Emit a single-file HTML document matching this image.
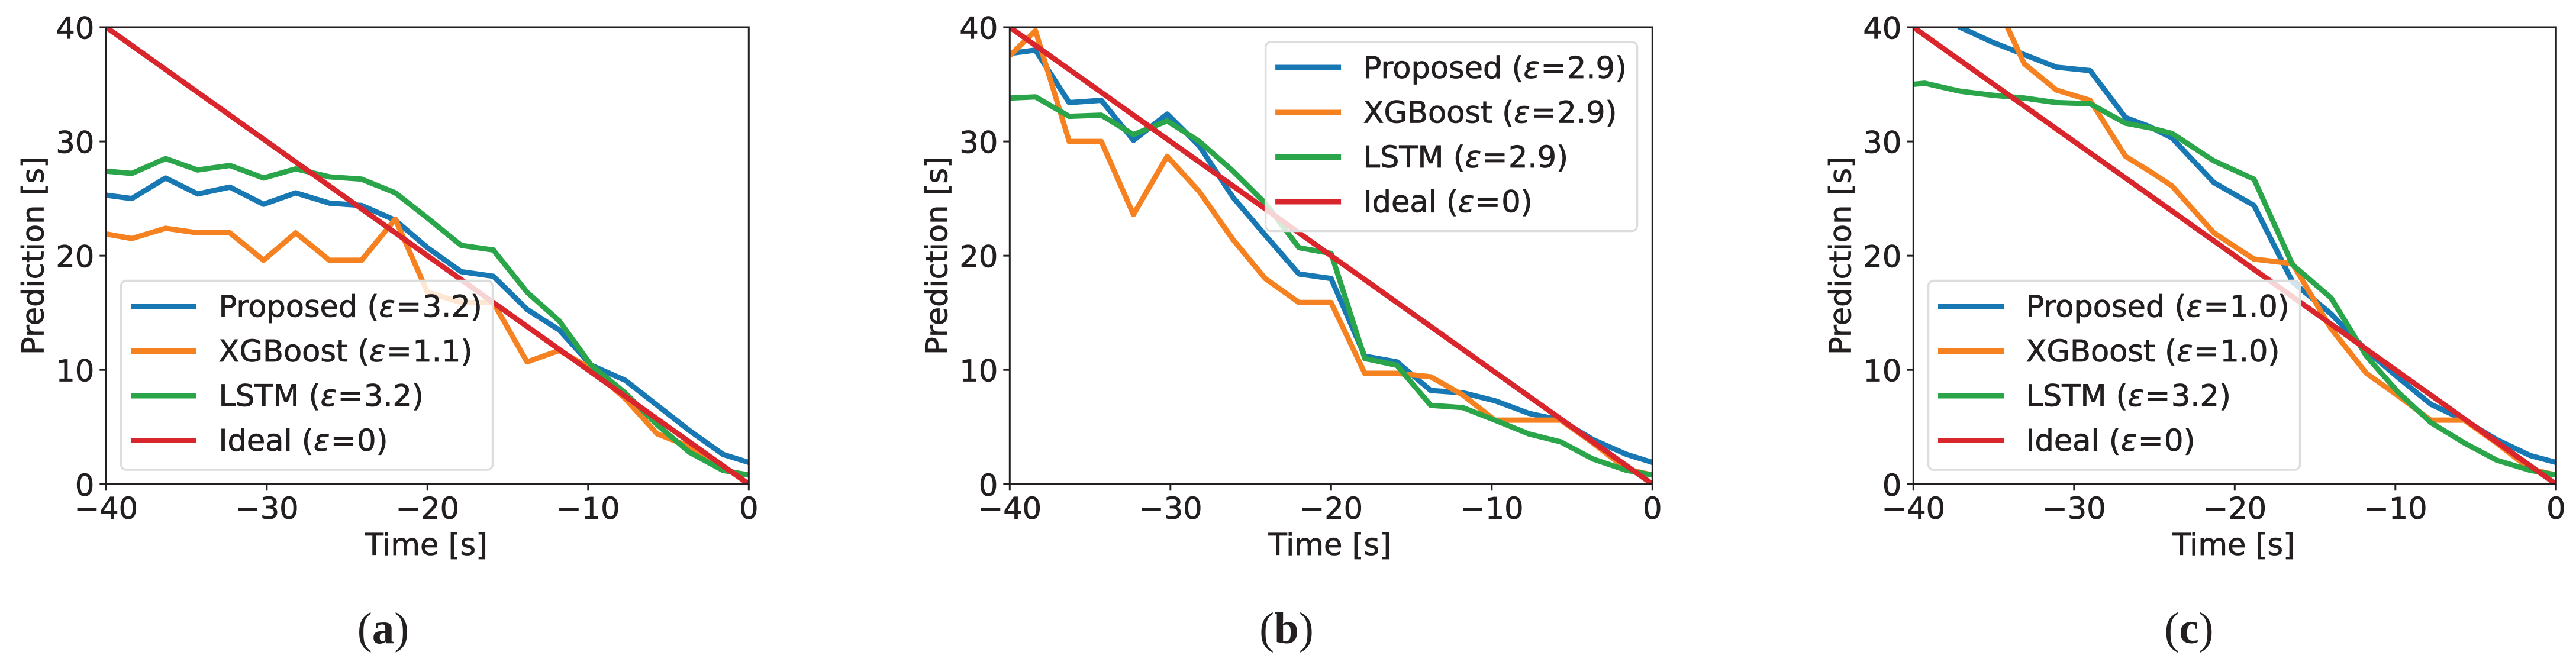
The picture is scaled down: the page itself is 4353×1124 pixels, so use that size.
<!DOCTYPE html>
<html lang="en">
<head>
<meta charset="utf-8">
<title>Prediction versus time charts</title>
<style>
  html, body { margin: 0; padding: 0; background: #ffffff; }
  body { width: 4353px; height: 1124px; overflow: hidden; }
  svg { display: block; }
  text { font-family: "DejaVu Sans", sans-serif; font-size: 51px; fill: #231f20; stroke: #231f20; stroke-width: 0.8px; }
  .caption { font-family: "Liberation Serif", serif; font-size: 75px; stroke-width: 0; }
  .caption .letter { font-weight: bold; }
  .eps { font-style: italic; }
  .spine { stroke: #231f20; stroke-width: 3; fill: none; }
  .legend-box { fill: #ffffff; fill-opacity: 0.8; stroke: #dcdddd; stroke-width: 3.4; }
  .legend-line { stroke-width: 9; }
  .blue { stroke: #1878b4; }
  .orange { stroke: #f68120; }
  .green { stroke: #2aa54a; }
  .red { stroke: #d8262c; }
</style>
</head>
<body>
<svg xmlns="http://www.w3.org/2000/svg" width="4353" height="1124" viewBox="0 0 4353 1124">
  <defs>
    <clipPath id="plot-clip"><rect x="0" y="0" width="1086" height="772.3"></rect></clipPath>
  </defs>

  <!-- Panel A -->
  <g id="panel-a" transform="translate(179.3,46)">
    <g class="series" clip-path="url(#plot-clip)"></g>
    <g class="ticks"></g>
    <rect class="spine" x="0" y="0" width="1086" height="772.3"></rect>
    <text transform="translate(-106,386) rotate(-90)" text-anchor="middle">Prediction [s]</text>
    <text x="541" y="892" text-anchor="middle">Time [s]</text>
    <g transform="translate(25.2,428.5)">
      <rect class="legend-box" x="0" y="0" width="628" height="319.5" rx="9" ry="9"></rect>
      <line class="legend-line blue" x1="16.5" x2="127.5" y1="43" y2="43"></line>
      <text x="165" y="61">Proposed (<tspan class="eps">ε</tspan><tspan dx="1.5">=</tspan><tspan dx="1.5">3.2)</tspan></text>
      <line class="legend-line orange" x1="16.5" x2="127.5" y1="119" y2="119"></line>
      <text x="165" y="136.5">XGBoost (<tspan class="eps">ε</tspan><tspan dx="1.5">=</tspan><tspan dx="1.5">1.1)</tspan></text>
      <line class="legend-line green" x1="16.5" x2="127.5" y1="194.5" y2="194.5"></line>
      <text x="165" y="212">LSTM (<tspan class="eps">ε</tspan><tspan dx="1.5">=</tspan><tspan dx="1.5">3.2)</tspan></text>
      <line class="legend-line red" x1="16.5" x2="127.5" y1="270" y2="270"></line>
      <text x="165" y="287.5">Ideal (<tspan class="eps">ε</tspan><tspan dx="1.5">=</tspan><tspan dx="1.5">0)</tspan></text>
    </g>
  </g>

  <!-- Panel B -->
  <g id="panel-b" transform="translate(1706.3,46)">
    <g class="series" clip-path="url(#plot-clip)"></g>
    <g class="ticks"></g>
    <rect class="spine" x="0" y="0" width="1086" height="772.3"></rect>
    <text transform="translate(-106,386) rotate(-90)" text-anchor="middle">Prediction [s]</text>
    <text x="541" y="892" text-anchor="middle">Time [s]</text>
    <g transform="translate(432.3,25)">
      <rect class="legend-box" x="0" y="0" width="628" height="319.5" rx="9" ry="9"></rect>
      <line class="legend-line blue" x1="16.5" x2="127.5" y1="43" y2="43"></line>
      <text x="165" y="61">Proposed (<tspan class="eps">ε</tspan><tspan dx="1.5">=</tspan><tspan dx="1.5">2.9)</tspan></text>
      <line class="legend-line orange" x1="16.5" x2="127.5" y1="119" y2="119"></line>
      <text x="165" y="136.5">XGBoost (<tspan class="eps">ε</tspan><tspan dx="1.5">=</tspan><tspan dx="1.5">2.9)</tspan></text>
      <line class="legend-line green" x1="16.5" x2="127.5" y1="194.5" y2="194.5"></line>
      <text x="165" y="212">LSTM (<tspan class="eps">ε</tspan><tspan dx="1.5">=</tspan><tspan dx="1.5">2.9)</tspan></text>
      <line class="legend-line red" x1="16.5" x2="127.5" y1="270" y2="270"></line>
      <text x="165" y="287.5">Ideal (<tspan class="eps">ε</tspan><tspan dx="1.5">=</tspan><tspan dx="1.5">0)</tspan></text>
    </g>
  </g>

  <!-- Panel C -->
  <g id="panel-c" transform="translate(3233.3,46)">
    <g class="series" clip-path="url(#plot-clip)"></g>
    <g class="ticks"></g>
    <rect class="spine" x="0" y="0" width="1086" height="772.3"></rect>
    <text transform="translate(-106,386) rotate(-90)" text-anchor="middle">Prediction [s]</text>
    <text x="541" y="892" text-anchor="middle">Time [s]</text>
    <g transform="translate(25.2,428.5)">
      <rect class="legend-box" x="0" y="0" width="628" height="319.5" rx="9" ry="9"></rect>
      <line class="legend-line blue" x1="16.5" x2="127.5" y1="43" y2="43"></line>
      <text x="165" y="61">Proposed (<tspan class="eps">ε</tspan><tspan dx="1.5">=</tspan><tspan dx="1.5">1.0)</tspan></text>
      <line class="legend-line orange" x1="16.5" x2="127.5" y1="119" y2="119"></line>
      <text x="165" y="136.5">XGBoost (<tspan class="eps">ε</tspan><tspan dx="1.5">=</tspan><tspan dx="1.5">1.0)</tspan></text>
      <line class="legend-line green" x1="16.5" x2="127.5" y1="194.5" y2="194.5"></line>
      <text x="165" y="212">LSTM (<tspan class="eps">ε</tspan><tspan dx="1.5">=</tspan><tspan dx="1.5">3.2)</tspan></text>
      <line class="legend-line red" x1="16.5" x2="127.5" y1="270" y2="270"></line>
      <text x="165" y="287.5">Ideal (<tspan class="eps">ε</tspan><tspan dx="1.5">=</tspan><tspan dx="1.5">0)</tspan></text>
    </g>
  </g>

  <text class="caption" x="647.5" y="1087" text-anchor="middle">(<tspan class="letter">a</tspan>)</text>
  <text class="caption" x="2174" y="1087" text-anchor="middle">(<tspan class="letter">b</tspan>)</text>
  <text class="caption" x="3699" y="1087" text-anchor="middle">(<tspan class="letter">c</tspan>)</text>
</svg>

<script>
const xTickValues = [-40, -30, -20, -10, 0];
const xTickLabels = ['\u221240', '\u221230', '\u221220', '\u221210', '0'];
const yTickValues = [0, 10, 20, 30, 40];
const yTickLabels = ['0', '10', '20', '30', '40'];

const idealTimes = [-40, 0];
const idealValues = [40, 0];

const timesA = [-40, -38.4, -36.3, -34.3, -32.3, -30.2, -28.2, -26.1, -24.1, -22, -20, -17.9, -15.9, -13.8, -11.8, -9.8, -7.7, -5.7, -3.7, -1.6, 0];
const proposedA = [25.3, 25.0, 26.8, 25.4, 26.0, 24.5, 25.5, 24.6, 24.4, 23.1, 20.7, 18.6, 18.2, 15.3, 13.5, 10.4, 9.1, 6.9, 4.7, 2.6, 1.9];
const xgboostA = [21.9, 21.5, 22.4, 22.0, 22.0, 19.6, 22.0, 19.6, 19.6, 23.2, 16.8, 15.9, 15.9, 10.7, 11.7, 10.1, 7.5, 4.4, 3.3, 1.2, 0.8];
const lstmA = [27.4, 27.2, 28.5, 27.5, 27.9, 26.8, 27.6, 26.9, 26.7, 25.5, 23.3, 20.9, 20.5, 16.8, 14.3, 10.4, 8.0, 5.2, 2.8, 1.2, 0.8];

const timesB = [-40, -38.4, -36.3, -34.3, -32.3, -30.2, -28.2, -26.1, -24.1, -22, -20, -17.9, -15.9, -13.8, -11.8, -9.8, -7.7, -5.7, -3.7, -1.6, 0];
const proposedB = [37.7, 38.0, 33.4, 33.6, 30.1, 32.4, 29.6, 25.1, 21.8, 18.4, 18.0, 11.2, 10.7, 8.2, 8.0, 7.3, 6.2, 5.6, 3.9, 2.6, 1.9];
const xgboostB = [37.5, 39.7, 30.0, 30.0, 23.6, 28.7, 25.6, 21.4, 18.0, 15.9, 15.9, 9.7, 9.7, 9.4, 7.8, 5.6, 5.6, 5.6, 3.6, 1.3, 0.8];
const lstmB = [33.8, 33.9, 32.2, 32.3, 30.6, 31.8, 30.0, 27.4, 24.6, 20.7, 20.2, 11.0, 10.4, 6.9, 6.7, 5.6, 4.4, 3.7, 2.2, 1.2, 0.8];

const timesC = [-40, -39.3, -37.1, -35.1, -33.1, -31.1, -29, -26.8, -25.3, -23.9, -21.3, -18.8, -16.4, -14, -11.8, -9.8, -7.8, -5.7, -3.7, -1.6, 0];
const proposedC = [43.5, 42.5, 40.0, 38.7, 37.6, 36.5, 36.2, 32.1, 31.3, 30.3, 26.4, 24.4, 17.7, 14.9, 11.7, 9.3, 7.0, 5.6, 3.9, 2.5, 1.9];
const xgboostC = [44.0, 44.0, 43.5, 42.9, 36.8, 34.5, 33.6, 28.7, 27.4, 26.1, 22.0, 19.7, 19.3, 13.6, 9.7, 7.7, 5.6, 5.6, 3.6, 1.3, 0.8];
const lstmC = [35.0, 35.1, 34.4, 34.05, 33.8, 33.4, 33.3, 31.6, 31.2, 30.7, 28.3, 26.7, 19.2, 16.3, 11.2, 8.0, 5.4, 3.6, 2.1, 1.2, 0.8];

const SVG_NS = 'http://www.w3.org/2000/svg';
const plotWidth = 1086;
const plotHeight = 772.3;

function xScale(seconds) {
  return (seconds + 40) / 40 * plotWidth;
}

function yScale(value) {
  return plotHeight - value / 40 * plotHeight;
}

function drawSeries(panelId, key, colour, times, values) {
  const parent = document.querySelector('#panel-' + panelId + ' .series');
  const line = document.createElementNS(SVG_NS, 'polyline');
  line.setAttribute('points', times.map(function (t, i) {
    return xScale(t).toFixed(2) + ',' + yScale(values[i]).toFixed(2);
  }).join(' '));
  line.setAttribute('fill', 'none');
  line.setAttribute('stroke', colour);
  line.setAttribute('stroke-width', '9');
  line.setAttribute('stroke-linejoin', 'round');
  
  
  parent.appendChild(line);
}

function drawTicks(panelId) {
  const parent = document.querySelector('#panel-' + panelId + ' .ticks');
  xTickValues.forEach(function (value, i) {
    const x = xScale(value);
    const mark = document.createElementNS(SVG_NS, 'line');
    mark.setAttribute('x1', x);
    mark.setAttribute('x2', x);
    mark.setAttribute('y1', plotHeight);
    mark.setAttribute('y2', plotHeight + 11);
    mark.setAttribute('class', 'spine');
    
    
    parent.appendChild(mark);
    const label = document.createElementNS(SVG_NS, 'text');
    label.setAttribute('x', x);
    label.setAttribute('y', plotHeight + 58.5);
    label.setAttribute('text-anchor', 'middle');
    label.textContent = xTickLabels[i];
    
    
    parent.appendChild(label);
  });
  yTickValues.forEach(function (value, i) {
    const y = yScale(value);
    const mark = document.createElementNS(SVG_NS, 'line');
    mark.setAttribute('x1', -11);
    mark.setAttribute('x2', 0);
    mark.setAttribute('y1', y);
    mark.setAttribute('y2', y);
    mark.setAttribute('class', 'spine');
    
    
    parent.appendChild(mark);
    const label = document.createElementNS(SVG_NS, 'text');
    label.setAttribute('x', -20);
    label.setAttribute('y', y + 19.5);
    label.setAttribute('text-anchor', 'end');
    label.textContent = yTickLabels[i];
    
    
    parent.appendChild(label);
  });
}

function drawPanel(panelId, times, proposed, xgboost, lstm) {
  drawSeries(panelId, 'proposed', '#1878b4', times, proposed);
  drawSeries(panelId, 'xgboost', '#f68120', times, xgboost);
  drawSeries(panelId, 'lstm', '#2aa54a', times, lstm);
  drawSeries(panelId, 'ideal', '#d8262c', idealTimes, idealValues);
  drawTicks(panelId);
}

drawPanel('a', timesA, proposedA, xgboostA, lstmA);
drawPanel('b', timesB, proposedB, xgboostB, lstmB);
drawPanel('c', timesC, proposedC, xgboostC, lstmC);
</script>
</body>
</html>
